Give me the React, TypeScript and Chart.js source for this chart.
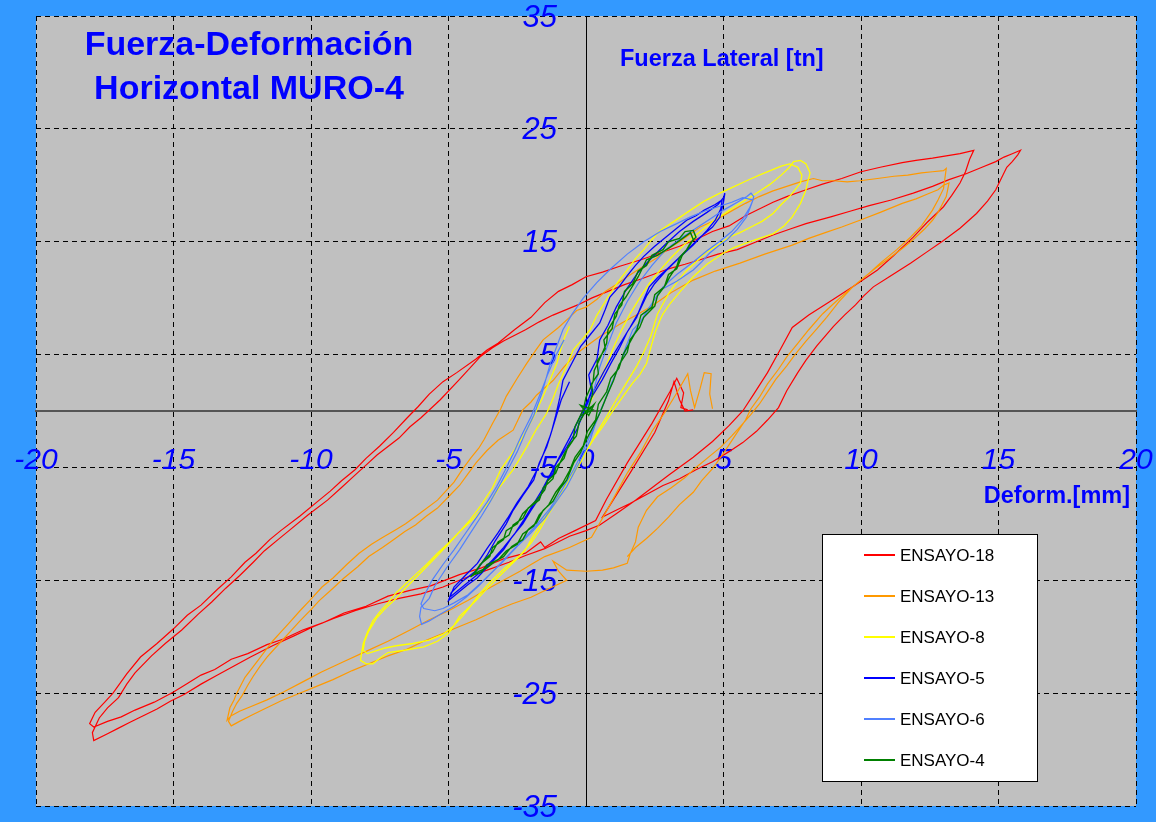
import React, { useEffect, useRef } from "react";
import { Chart, registerables } from "chart.js";

Chart.register(...registerables);

type Pt = [number, number];

const X_TICKS = [-20, -15, -10, -5, 0, 5, 10, 15, 20];
const Y_TICKS = [-35, -25, -15, -5, 5, 15, 25, 35];

const TITLE_LINES = ["Fuerza-Deformación", "Horizontal MURO-4"];
const Y_TITLE = "Fuerza Lateral [tn]";
const X_TITLE = "Deform.[mm]";

const SERIES_NAMES = ["ENSAYO-18", "ENSAYO-13", "ENSAYO-8", "ENSAYO-5", "ENSAYO-6", "ENSAYO-4"];
const SERIES_COLORS = ["#FF0000", "#FF9900", "#FFFF00", "#0000FF", "#5080FF", "#008000"];

const ENSAYO_18: Pt[] = [
  [3.70, 0.1], [3.45, 0.3], [3.55, 1.6], [3.30, 2.9], [3.05, 1.7], [2.40, -1.1], [1.50, -4.6], [0.75, -7.8], [0.35, -9.7],
  [-0.40, -10.6], [-1.00, -11.3], [-1.50, -12.1], [-1.65, -11.6], [-2.20, -12.6], [-3.00, -13.1], [-3.80, -13.9], [-4.60, -14.5],
  [-5.65, -15.5], [-6.40, -15.9], [-7.20, -16.4], [-8.00, -17.3], [-8.80, -17.9], [-9.60, -18.8], [-10.30, -19.4], [-11.00, -20.2],
  [-11.60, -20.7], [-12.30, -21.5], [-12.90, -22.0], [-13.50, -22.9], [-14.00, -23.4], [-14.60, -24.3], [-15.00, -24.9],
  [-15.70, -25.8], [-16.40, -26.5], [-16.90, -27.1], [-17.40, -27.5], [-17.90, -28.0],
  [-18.05, -27.7], [-17.85, -26.7], [-17.50, -25.8], [-17.20, -25.0], [-16.70, -23.3], [-16.20, -21.8], [-15.60, -20.6],
  [-15.00, -19.3], [-14.50, -18.1], [-14.00, -17.2], [-13.40, -15.8], [-12.90, -14.7], [-12.40, -13.4], [-12.00, -12.6],
  [-11.50, -11.4], [-11.10, -10.6], [-10.40, -9.3], [-9.70, -7.9], [-9.30, -7.1], [-8.90, -6.2], [-8.40, -5.2], [-8.00, -4.2],
  [-7.50, -3.1], [-7.00, -1.9], [-6.50, -0.6], [-6.10, 0.4], [-5.70, 1.5], [-5.20, 2.6], [-4.70, 3.4], [-4.00, 4.6], [-3.60, 5.4],
  [-3.20, 6.0], [-2.60, 7.2], [-2.00, 8.3], [-1.50, 9.6], [-1.00, 10.6], [-0.50, 11.2], [0.00, 11.9], [0.60, 12.3], [1.20, 12.8],
  [2.00, 13.4], [2.70, 14.0], [3.40, 14.6], [4.00, 15.2], [4.60, 15.9], [5.20, 16.4], [5.80, 17.3], [6.30, 17.9], [6.80, 18.5],
  [7.30, 19.0], [8.00, 19.6], [8.60, 20.1], [9.30, 20.6], [10.00, 21.2], [10.70, 21.6], [11.50, 22.0], [12.00, 22.2], [12.60, 22.4],
  [13.10, 22.6], [13.60, 22.8], [14.10, 23.1],
  [13.95, 22.3], [13.80, 21.2], [13.60, 20.2], [13.30, 19.1], [13.00, 18.1], [12.40, 16.7], [11.90, 15.4], [11.20, 13.8],
  [10.60, 12.5], [9.70, 11.0], [8.80, 9.6], [8.10, 8.5], [7.50, 7.4], [7.10, 5.6], [6.60, 3.4], [6.10, 1.5], [5.70, 0.0],
  [5.20, -1.3], [4.60, -2.7], [3.90, -4.1], [3.00, -5.7], [2.40, -6.8], [1.80, -7.9], [1.10, -9.1], [0.50, -10.1], [0.00, -10.6],
  [-0.60, -11.1], [-1.50, -12.2], [-2.20, -12.8], [-2.80, -13.4], [-3.60, -14.1], [-4.40, -14.8], [-5.20, -15.6], [-6.00, -16.2],
  [-6.80, -16.6], [-7.60, -17.1], [-8.40, -17.7], [-9.20, -18.4], [-9.90, -19.1], [-10.60, -19.9], [-11.40, -20.8], [-12.20, -21.8],
  [-12.80, -22.6], [-13.40, -23.4], [-14.00, -24.2], [-14.60, -25.1], [-15.10, -25.7], [-15.60, -26.4], [-16.10, -27.0],
  [-16.60, -27.6], [-17.00, -28.1], [-17.40, -28.6], [-17.90, -29.2],
  [-17.95, -28.5], [-17.70, -27.2], [-17.40, -26.3], [-17.00, -25.4], [-16.70, -24.2], [-16.40, -23.2], [-15.80, -21.7],
  [-15.30, -20.6], [-14.70, -19.4], [-14.10, -18.0], [-13.60, -16.9], [-13.10, -15.7], [-12.60, -14.6], [-12.10, -13.4],
  [-11.70, -12.4], [-11.20, -11.4], [-10.80, -10.6], [-10.10, -9.2], [-9.40, -7.9], [-8.90, -6.8], [-8.50, -5.9], [-8.00, -4.8],
  [-7.60, -3.9], [-6.80, -2.4], [-6.40, -1.4], [-6.00, -0.6], [-5.30, 1.0], [-4.60, 2.8], [-3.85, 4.8], [-3.40, 5.6], [-3.00, 6.2],
  [-2.20, 7.2], [-1.70, 7.9], [-1.20, 8.5], [-0.30, 9.4], [0.20, 10.0], [0.80, 10.6], [1.40, 11.2], [2.00, 11.7], [3.00, 12.6],
  [3.60, 13.0], [4.15, 13.4], [4.80, 13.9], [5.50, 14.3], [6.20, 15.0], [6.80, 15.6], [7.40, 16.1], [8.00, 16.6], [8.90, 17.2],
  [9.60, 17.7], [10.30, 18.2], [11.10, 18.7], [11.90, 19.3], [12.60, 19.9], [13.20, 20.5], [13.80, 21.0], [14.40, 21.6],
  [14.90, 22.1], [15.20, 22.5], [15.50, 22.8], [15.80, 23.1],
  [15.70, 22.7], [15.50, 22.1], [15.30, 21.6], [15.10, 20.6], [14.90, 19.6], [14.60, 18.6], [14.20, 17.5], [13.60, 16.2],
  [13.00, 15.1], [12.40, 14.1], [11.80, 13.1], [11.10, 12.0], [10.45, 11.0], [10.10, 10.2], [9.80, 9.4], [9.40, 8.5], [9.00, 7.5],
  [8.40, 5.8], [8.00, 4.5], [7.70, 3.4], [7.30, 1.8], [7.00, 0.3], [6.60, -0.8], [6.20, -1.8], [5.70, -2.8], [5.20, -3.6],
  [4.60, -4.5], [4.00, -5.2], [3.40, -6.0], [2.80, -6.6], [2.20, -7.4], [1.60, -8.2], [1.00, -8.9], [0.60, -9.4],
  [1.60, -5.5], [2.50, -1.9], [3.00, 0.9], [3.20, 2.6], [3.40, 1.0], [3.60, 0.0], [3.90, 0.1],
];

const ENSAYO_13: Pt[] = [
  [4.60, 0.2], [4.50, 1.5], [4.55, 3.3], [4.30, 3.4], [4.15, 2.0], [3.95, 0.3], [3.80, 1.8], [3.70, 3.3], [3.30, 1.6], [2.90, 0.0],
  [2.40, -1.8], [2.00, -3.6], [1.50, -5.5], [1.10, -7.3], [0.60, -9.5], [0.20, -11.2],
  [-0.60, -12.1], [-1.50, -12.9], [-2.00, -13.6], [-2.40, -14.2], [-3.00, -15.0], [-3.60, -15.8], [-4.30, -16.8], [-5.00, -17.7],
  [-5.70, -18.5], [-6.40, -19.4], [-7.20, -20.4], [-8.00, -21.3], [-8.80, -22.2], [-9.60, -23.1], [-10.30, -24.0], [-11.00, -24.9],
  [-11.60, -25.6], [-12.20, -26.2], [-12.60, -26.6], [-12.90, -27.0], [-13.05, -27.4],
  [-12.95, -26.3], [-12.80, -25.6], [-12.70, -25.0], [-12.40, -23.6], [-12.15, -22.8], [-11.90, -22.0], [-11.40, -20.4],
  [-11.10, -19.6], [-10.80, -18.8], [-10.40, -17.7], [-10.05, -16.8], [-9.60, -15.6], [-9.20, -14.8], [-8.70, -13.6],
  [-8.25, -12.6], [-7.80, -11.8], [-7.40, -11.2], [-6.90, -10.5], [-6.56, -10.0], [-6.00, -9.0], [-5.40, -7.9], [-5.10, -7.1],
  [-4.80, -6.3], [-4.50, -5.2], [-4.20, -4.2], [-3.90, -3.3], [-3.70, -2.5], [-3.40, -1.1], [-3.10, 0.2], [-2.90, 1.3],
  [-2.50, 2.9], [-2.16, 4.2], [-1.85, 5.3], [-1.56, 6.3], [-1.00, 7.4], [-0.60, 8.3], [-0.34, 8.9], [0.00, 9.2], [0.40, 9.9],
  [0.70, 10.6], [1.10, 11.2], [1.50, 11.9], [2.00, 12.7], [2.60, 13.6], [3.00, 14.4], [3.40, 15.0], [4.15, 16.3], [4.70, 16.9],
  [5.20, 17.6], [5.80, 18.4], [6.30, 19.0], [6.80, 19.5], [7.30, 19.9], [7.80, 20.3], [8.27, 20.6], [8.60, 20.4], [9.00, 20.4],
  [9.50, 20.3], [9.96, 20.4], [10.60, 20.6], [11.20, 20.8], [11.70, 20.9], [12.20, 21.1], [12.60, 21.2], [13.00, 21.3], [13.10, 21.5],
  [13.05, 20.6], [13.00, 19.7], [12.80, 18.7], [12.60, 17.8], [12.20, 16.4], [11.80, 15.4], [11.30, 14.3], [10.70, 13.1],
  [10.20, 12.0], [9.70, 11.0], [9.20, 9.7], [8.75, 8.3], [8.40, 7.3], [8.00, 6.2], [7.60, 5.0], [7.30, 4.0], [6.90, 2.8],
  [6.60, 1.7], [6.30, 0.6], [6.00, -0.3], [5.60, -1.4], [5.30, -2.2], [4.90, -3.2], [4.50, -4.0], [4.00, -5.0], [3.60, -5.9],
  [3.10, -6.8], [2.60, -7.6], [2.20, -8.8], [1.90, -10.3], [1.80, -11.6], [1.60, -12.7], [1.50, -13.5], [1.00, -13.9],
  [0.60, -14.1], [0.00, -14.2], [-0.70, -14.1], [-1.20, -13.3], [-1.00, -14.2], [-0.70, -15.0],
  [-1.40, -15.8], [-2.00, -16.5], [-2.70, -17.1], [-3.30, -17.7], [-4.00, -18.5], [-4.60, -19.1], [-5.30, -19.8], [-5.90, -20.4],
  [-6.50, -21.1], [-7.20, -21.7], [-7.90, -22.4], [-8.50, -23.0], [-9.20, -23.8], [-9.80, -24.4], [-10.50, -25.1], [-11.10, -25.7],
  [-11.70, -26.4], [-12.20, -27.0], [-12.60, -27.5], [-12.90, -27.9],
  [-13.00, -27.5], [-12.85, -26.6], [-12.70, -25.9], [-12.50, -25.2], [-12.30, -24.3], [-12.10, -23.5], [-11.85, -22.6],
  [-11.60, -21.8], [-11.30, -21.0], [-11.00, -20.2], [-10.70, -19.4], [-10.40, -18.6], [-10.00, -17.6], [-9.70, -16.8],
  [-9.20, -15.7], [-8.80, -14.8], [-8.30, -13.8], [-7.90, -12.9], [-7.40, -12.1], [-7.00, -11.4], [-6.60, -10.7], [-6.20, -10.1],
  [-5.80, -9.3], [-5.40, -8.6], [-5.00, -7.6], [-4.60, -6.6], [-4.30, -5.6], [-4.00, -4.6], [-3.60, -3.5], [-3.20, -2.6],
  [-2.65, -1.7], [-2.30, 0.1], [-2.00, 0.8], [-1.80, 1.4], [-1.20, 2.7], [-0.80, 3.9], [-0.34, 5.1], [0.10, 5.9], [0.50, 6.6],
  [0.90, 7.2], [1.30, 7.8], [1.90, 8.6], [2.40, 9.3], [3.10, 10.5], [3.90, 11.6], [4.70, 12.4], [5.60, 13.1], [6.50, 13.9],
  [7.50, 14.7], [8.10, 15.3], [8.70, 15.8], [9.30, 16.3], [9.96, 16.9], [10.70, 17.6], [11.50, 18.4], [12.00, 18.8], [12.40, 19.2],
  [12.80, 19.6], [13.00, 20.0], [13.20, 20.2],
  [13.15, 19.6], [13.10, 19.0], [12.95, 18.3], [12.80, 17.6], [12.60, 16.9], [12.30, 16.1], [11.90, 15.2], [11.50, 14.4],
  [11.00, 13.5], [10.50, 12.6], [10.00, 11.6], [9.50, 10.6], [9.00, 9.5], [8.60, 8.6], [8.10, 7.2], [7.70, 6.0], [7.30, 4.8],
  [7.00, 3.7], [6.60, 2.4], [6.30, 1.2], [6.00, 0.2], [5.80, -0.8], [5.50, -1.9], [5.20, -3.0], [4.90, -4.1], [4.60, -5.1],
  [4.20, -6.2], [3.90, -7.2], [3.40, -8.3], [3.00, -9.4], [2.60, -10.4], [2.20, -11.3], [1.80, -12.1], [1.50, -12.9],
];

const ENSAYO_8: Pt[] = [
  [0.00, 0.0], [0.30, 1.5], [0.55, 3.0], [0.80, 4.4], [1.05, 5.9], [1.30, 7.2], [1.60, 8.6], [1.95, 10.0], [2.30, 11.3],
  [2.70, 12.5], [3.10, 13.6], [3.60, 14.8], [4.10, 15.8], [4.60, 16.8], [5.10, 17.6], [5.60, 18.4], [6.20, 19.3], [6.70, 20.1],
  [7.10, 20.9], [7.40, 21.6], [7.55, 22.1], [7.80, 22.2], [8.00, 21.9], [8.15, 21.1], [8.05, 20.2], [8.00, 19.6], [7.80, 18.4],
  [7.50, 17.2], [7.20, 16.4], [6.80, 15.7], [6.30, 15.3], [5.84, 14.9], [5.40, 14.5], [5.00, 14.0], [4.40, 13.0], [3.90, 11.9],
  [3.50, 10.8], [3.05, 9.5], [2.80, 8.6], [2.70, 8.1], [2.55, 7.2], [2.40, 6.0], [2.20, 4.2], [1.95, 3.2], [1.70, 2.5],
  [1.35, 1.3], [1.00, 0.1], [0.60, -1.4], [0.25, -2.6], [0.00, -3.6], [-0.20, -4.6], [-0.50, -5.7], [-0.70, -6.5], [-1.00, -7.5],
  [-1.20, -8.4], [-1.50, -9.4], [-1.70, -10.2], [-2.00, -11.4], [-2.20, -12.3], [-2.50, -13.1], [-2.80, -13.8], [-3.30, -15.0],
  [-3.70, -16.0], [-4.00, -16.8], [-4.30, -17.5], [-4.60, -18.2], [-4.80, -19.0], [-5.00, -19.7], [-5.40, -20.4], [-5.90, -20.9],
  [-6.60, -21.2], [-7.20, -21.4], [-7.50, -21.9], [-7.75, -22.4], [-8.00, -22.4], [-8.20, -22.1],
  [-8.15, -21.3], [-8.10, -20.6], [-7.95, -19.6], [-7.75, -18.6], [-7.50, -17.8], [-7.20, -17.0], [-6.90, -16.1], [-6.56, -15.3],
  [-6.20, -14.5], [-5.80, -13.6], [-5.40, -12.6], [-5.00, -11.7], [-4.60, -10.7], [-4.20, -9.8], [-3.80, -8.8], [-3.45, -7.9],
  [-3.10, -6.6], [-2.65, -5.2], [-2.40, -4.2], [-2.16, -3.2], [-1.80, -1.6], [-1.43, -0.2], [-1.20, 1.1], [-1.00, 2.4],
  [-0.70, 4.0], [-0.47, 5.4], [-0.15, 6.3], [0.15, 7.2], [0.40, 8.5], [0.80, 10.1], [1.15, 11.4], [1.50, 12.5], [1.80, 13.5],
  [2.10, 14.3], [2.40, 15.2], [2.70, 16.0], [3.20, 16.8], [3.80, 17.8], [4.30, 18.6], [4.87, 19.3], [5.40, 19.9], [5.84, 20.4],
  [6.30, 20.9], [6.70, 21.3], [7.10, 21.7], [7.40, 21.9], [7.70, 21.6], [7.85, 20.9], [7.80, 20.2],
  [7.60, 19.6], [7.40, 19.0], [7.10, 18.3], [6.80, 17.5], [6.40, 16.8], [6.00, 16.3], [5.60, 15.8], [5.20, 15.4], [4.80, 14.7],
  [4.40, 14.1], [4.00, 13.2], [3.60, 12.3], [3.30, 11.4], [3.00, 10.4], [2.80, 9.5], [2.60, 8.6], [2.50, 7.8], [2.35, 6.6],
  [2.10, 5.2], [1.85, 4.0], [1.50, 2.6], [1.10, 1.0], [0.75, -0.5], [0.40, -1.9], [0.10, -3.2], [-0.20, -4.4], [-0.50, -5.6],
  [-0.80, -6.9], [-1.10, -8.1], [-1.40, -9.3], [-1.70, -10.6], [-2.00, -11.7], [-2.40, -12.8], [-2.90, -13.8], [-3.50, -15.2],
  [-3.90, -16.3], [-4.20, -17.3], [-4.50, -18.2], [-4.80, -19.0], [-5.20, -19.8], [-5.70, -20.3], [-6.30, -20.6], [-6.90, -20.8],
  [-7.30, -21.0], [-7.70, -21.3], [-7.95, -21.5], [-8.10, -21.2],
  [-8.05, -20.4], [-7.90, -19.5], [-7.60, -18.3], [-7.30, -17.5], [-6.90, -16.6], [-6.60, -15.8], [-6.20, -14.8], [-5.80, -13.8],
  [-5.40, -12.8], [-5.00, -11.8], [-4.60, -10.7], [-4.20, -9.6], [-3.80, -8.3], [-3.40, -6.8], [-3.10, -5.2], [-2.70, -3.8],
  [-2.30, -2.3], [-1.90, -0.5], [-1.56, 1.3], [-1.30, 2.8], [-1.05, 4.3], [-0.95, 5.2], [-0.80, 6.4], [-0.60, 7.5],
];

const ENSAYO_5: Pt[] = [
  [0.00, 0.4], [0.20, 1.8], [0.10, 3.2], [0.40, 4.6], [0.50, 6.3], [0.80, 7.6], [1.10, 9.2], [1.50, 10.9], [1.90, 12.3],
  [2.40, 13.6], [2.90, 14.8], [3.40, 15.9], [3.90, 16.8], [4.40, 17.6], [4.80, 18.3], [5.00, 18.9], [5.05, 19.3], [5.00, 18.5],
  [4.87, 17.2], [4.60, 16.3], [4.15, 15.4], [3.60, 14.1], [3.05, 12.8], [2.60, 11.8], [2.30, 11.0], [2.05, 9.6], [1.84, 8.3],
  [1.50, 7.0], [1.20, 5.5], [0.90, 4.2], [0.60, 2.8], [0.30, 1.6], [0.00, 0.4], [-0.34, -1.7], [-0.70, -3.2], [-1.07, -4.6],
  [-1.40, -6.2], [-1.67, -7.6], [-2.00, -8.8], [-2.30, -10.0], [-2.70, -11.2], [-3.00, -12.3], [-3.50, -13.6], [-3.96, -14.8],
  [-4.30, -15.4], [-4.60, -16.0], [-5.00, -16.8], [-4.90, -16.1], [-4.50, -15.1], [-3.96, -14.1], [-3.60, -12.8], [-3.30, -11.5],
  [-2.90, -10.0], [-2.65, -8.8], [-2.30, -7.5], [-1.90, -6.1], [-1.70, -4.6], [-1.43, -3.2], [-1.25, -1.8], [-1.10, -0.4],
  [-0.95, 1.2], [-0.84, 2.7], [-0.50, 4.3], [-0.20, 5.7], [0.10, 6.6], [0.50, 7.8], [0.70, 9.0], [0.87, 10.1], [1.20, 11.0],
  [1.50, 12.0], [1.80, 12.9], [2.10, 13.7], [2.50, 14.6], [2.90, 15.4], [3.30, 16.2], [3.66, 16.9], [4.00, 17.3], [4.30, 17.8],
  [4.70, 18.3], [4.95, 18.7], [4.90, 17.9], [4.70, 16.9], [4.40, 16.0], [3.90, 14.7], [3.40, 13.6], [2.90, 12.4], [2.50, 11.3],
  [2.20, 10.2], [1.95, 8.9], [1.60, 7.4], [1.30, 6.2], [0.95, 4.8], [0.65, 3.5], [0.35, 2.1], [0.05, 0.9], [-0.25, -0.7],
  [-0.60, -2.4], [-0.95, -4.0], [-1.30, -5.6], [-1.60, -7.0], [-1.95, -8.4], [-2.25, -9.6], [-2.60, -10.9], [-3.00, -12.1],
  [-3.40, -13.2], [-3.80, -14.2], [-4.20, -15.0], [-4.60, -15.8], [-4.95, -16.5], [-4.80, -15.6], [-4.40, -14.6], [-3.95, -13.5],
  [-3.60, -12.2], [-3.20, -10.8], [-2.85, -9.5], [-2.50, -8.1], [-2.10, -6.7], [-1.80, -5.3], [-1.55, -3.8], [-1.30, -2.2],
  [-1.10, -0.6], [-0.90, 1.0], [-0.60, 2.6],
];

const ENSAYO_6: Pt[] = [
  [0.00, 0.0], [0.30, 2.0], [0.50, 3.9], [0.80, 5.9], [1.10, 7.8], [1.50, 9.7], [1.90, 11.3], [2.40, 12.9], [2.90, 14.3],
  [3.50, 15.4], [4.00, 16.2], [4.50, 17.0], [5.00, 17.8], [5.50, 18.5], [5.85, 19.0], [6.00, 19.3], [6.10, 19.0], [6.07, 18.7],
  [5.95, 17.9], [5.84, 17.2], [5.50, 16.1], [5.10, 15.1], [4.80, 14.6], [4.50, 14.0], [4.20, 13.2], [3.90, 12.5], [3.30, 11.5],
  [2.70, 10.7], [2.40, 9.5], [2.10, 8.3], [1.90, 7.7], [1.70, 7.2], [1.45, 5.7], [1.24, 4.2], [0.90, 2.3], [0.60, 0.4],
  [0.35, -1.1], [0.15, -2.6], [-0.25, -4.6], [-0.70, -6.7], [-1.10, -8.1], [-1.50, -9.5], [-2.00, -10.8], [-2.50, -12.0],
  [-3.00, -13.3], [-3.50, -14.5], [-3.90, -15.5], [-4.36, -16.5], [-4.80, -17.3], [-5.30, -18.0], [-5.70, -18.6], [-5.98, -18.9],
  [-6.05, -18.2], [-6.00, -17.4], [-5.70, -16.6], [-5.50, -15.5], [-5.10, -14.0], [-4.60, -12.3], [-4.20, -10.8], [-3.80, -9.3],
  [-3.45, -7.9], [-3.10, -6.4], [-2.80, -5.0], [-2.50, -3.6], [-2.20, -1.9], [-1.90, -0.4], [-1.60, 1.6], [-1.30, 4.2],
  [-1.05, 5.8], [-0.84, 7.2], [-0.50, 8.6], [-0.10, 10.0], [0.40, 11.4], [0.90, 12.6], [1.50, 13.9], [2.10, 15.0], [2.70, 15.9],
  [3.30, 16.6], [3.80, 17.2], [4.30, 17.7], [4.80, 18.1], [5.30, 18.5], [5.70, 18.9], [6.07, 18.7], [5.95, 18.0], [5.70, 17.0],
  [5.30, 15.9], [4.90, 15.1], [4.40, 14.2], [3.90, 13.2], [3.30, 12.1], [2.80, 11.0], [2.50, 9.9], [2.20, 8.8], [1.90, 7.6],
  [1.60, 6.2], [1.35, 4.8], [1.05, 3.1], [0.80, 1.6], [0.50, -0.1], [0.20, -1.9], [-0.10, -3.5], [-0.45, -5.2], [-0.85, -6.9],
  [-1.30, -8.6], [-1.80, -10.1], [-2.30, -11.4], [-2.80, -12.7], [-3.30, -14.0], [-3.80, -15.2], [-4.30, -16.3], [-4.80, -17.0],
  [-5.20, -17.5], [-5.50, -17.7], [-5.90, -17.5], [-6.00, -17.1], [-5.85, -16.2], [-5.60, -15.0], [-5.20, -13.6], [-4.80, -12.3],
  [-4.40, -10.9], [-4.00, -9.5], [-3.60, -8.1], [-3.25, -6.7], [-2.95, -5.3], [-2.65, -3.8], [-2.35, -2.2], [-2.00, -0.5],
  [-1.70, 1.3], [-1.40, 3.2], [-1.10, 4.9], [-0.80, 6.3],
];

const ENSAYO_4: Pt[] = [
  [0.00, 0.0], [0.20, 0.4], [-0.10, -0.3], [0.25, 0.1], [-0.20, 0.5], [0.10, -0.4], [0.30, 0.6], [0.05, 0.0],
  [0.25, 1.6], [0.20, 2.4], [0.45, 3.3], [0.40, 4.4], [0.70, 5.5], [0.65, 6.3], [0.95, 7.3], [1.05, 8.6], [1.30, 9.4],
  [1.40, 10.6], [1.70, 11.3], [1.90, 12.4], [2.20, 12.9], [2.40, 13.8], [2.80, 14.3], [3.00, 15.0], [3.40, 15.3], [3.60, 15.9],
  [3.90, 16.0], [4.00, 15.4], [3.80, 14.9], [3.66, 14.3], [3.40, 13.6], [3.30, 12.8], [3.05, 11.9], [2.90, 11.2], [2.60, 10.2],
  [2.50, 9.3], [2.10, 8.3], [1.95, 7.4], [1.60, 6.3], [1.50, 5.2], [1.20, 4.1], [1.00, 2.7], [0.80, 1.6], [0.50, -0.2],
  [0.30, -1.2], [0.00, -2.6], [-0.20, -3.7], [-0.45, -4.6], [-0.70, -6.1], [-0.95, -6.9], [-1.20, -8.0], [-1.56, -8.8],
  [-1.80, -9.9], [-2.10, -10.5], [-2.30, -11.4], [-2.70, -12.0], [-3.00, -12.9], [-3.30, -13.3], [-3.60, -13.9], [-3.90, -14.2],
  [-4.20, -14.7], [-4.00, -14.2], [-3.85, -13.6], [-3.50, -12.9], [-3.40, -12.1], [-3.00, -11.4], [-2.90, -10.6], [-2.50, -10.0],
  [-2.30, -9.1], [-1.80, -7.9], [-1.50, -7.0], [-1.40, -6.2], [-1.10, -5.5], [-0.95, -4.6], [-0.75, -3.6], [-0.47, -2.6],
  [-0.40, -1.4], [-0.10, 0.1], [0.00, 1.2], [0.26, 2.6], [0.30, 3.6], [0.55, 4.9], [0.75, 6.0], [0.80, 7.2], [1.10, 8.4],
  [1.20, 9.3], [1.45, 10.1], [1.60, 10.7], [1.90, 11.9], [2.20, 13.4], [2.60, 13.8], [3.05, 14.5], [3.40, 15.1], [3.80, 15.8],
  [3.90, 15.2], [3.70, 14.4], [3.50, 13.8], [3.30, 12.6], [3.00, 12.1], [2.85, 11.0], [2.50, 10.3], [2.40, 9.2], [2.00, 8.5],
  [1.85, 7.2], [1.60, 6.1], [1.35, 5.0], [1.20, 3.8], [0.90, 2.9], [0.75, 1.7], [0.45, 0.6], [0.35, -0.8], [0.05, -1.8],
  [-0.10, -3.1], [-0.40, -4.1], [-0.60, -5.3], [-0.85, -6.4], [-1.10, -7.2], [-1.35, -8.3], [-1.70, -9.2], [-1.90, -10.2],
  [-2.30, -10.9], [-2.50, -11.8], [-2.90, -12.4], [-3.20, -13.2], [-3.60, -13.6], [-3.80, -14.3], [-4.10, -14.5],
  [-3.90, -13.8], [-3.70, -13.2], [-3.40, -12.5], [-3.20, -11.6], [-2.80, -11.0], [-2.65, -10.1], [-2.30, -9.5], [-2.10, -8.6],
  [-1.70, -7.9], [-1.55, -6.8], [-1.20, -6.0], [-1.10, -5.0], [-0.80, -4.2], [-0.65, -3.1], [-0.35, -2.2], [-0.25, -1.0], [0.00, 0.0],
];

const SERIES_DATA: Pt[][] = [ENSAYO_18, ENSAYO_13, ENSAYO_8, ENSAYO_5, ENSAYO_6, ENSAYO_4];
const SERIES_WIDTHS = [1.2, 1.2, 1.3, 1.3, 1.2, 1.4];
const SERIES_ORDER = [6, 5, 4, 3, 2, 1];

const FONT = "'Liberation Sans', Arial, Helvetica, sans-serif";
const PAGE_BG = "#3399FF";
const PLOT_BG = "#C0C0C0";
const TEXT_BLUE = "#0000FF";
const Y_LABEL_GAP = 29;

const noScalePadding = (s: any) => {
  s.paddingLeft = 0;
  s.paddingRight = 0;
  s.paddingTop = 0;
  s.paddingBottom = 0;
};

const bgPlugin = {
  id: "bgPlugin",
  beforeDraw(chart: any) {
    const { ctx, width, height, chartArea } = chart;
    ctx.save();
    ctx.fillStyle = PAGE_BG;
    ctx.fillRect(0, 0, width, height);
    ctx.fillStyle = PLOT_BG;
    ctx.fillRect(chartArea.left, chartArea.top, chartArea.right - chartArea.left, chartArea.bottom - chartArea.top);
    ctx.restore();
    const yScale = chart.scales.y;
    if (yScale && !yScale.$shifted) {
      const items = yScale.getLabelItems(chartArea);
      items.forEach((it: any) => {
        it.options.translation[0] -= Y_LABEL_GAP;
      });
      yScale.$shifted = true;
    }
  },
};

const textPlugin = {
  id: "textPlugin",
  afterDraw(chart: any) {
    const ctx = chart.ctx;
    ctx.save();
    ctx.fillStyle = TEXT_BLUE;
    ctx.textBaseline = "alphabetic";
    ctx.textAlign = "center";
    ctx.font = `bold 34px ${FONT}`;
    ctx.fillText(TITLE_LINES[0], 249, 55);
    ctx.fillText(TITLE_LINES[1], 249, 99);
    ctx.font = `bold 23.5px ${FONT}`;
    ctx.textAlign = "left";
    ctx.fillText(Y_TITLE, 620, 66);
    ctx.textAlign = "right";
    ctx.fillText(X_TITLE, 1130, 503);

    const lx = 822, ly = 534, lw = 216, lh = 248;
    ctx.fillStyle = "#FFFFFF";
    ctx.fillRect(lx, ly, lw, lh);
    ctx.strokeStyle = "#000000";
    ctx.lineWidth = 1;
    ctx.strokeRect(lx + 0.5, ly + 0.5, lw - 1, lh - 1);
    ctx.font = `17px ${FONT}`;
    ctx.textAlign = "left";
    ctx.textBaseline = "middle";
    chart.data.datasets.forEach((ds: any, i: number) => {
      const y = 555 + i * 41;
      ctx.strokeStyle = ds.borderColor;
      ctx.lineWidth = 2;
      ctx.beginPath();
      ctx.moveTo(864, y);
      ctx.lineTo(895, y);
      ctx.stroke();
      ctx.fillStyle = "#000000";
      ctx.fillText(ds.label, 900, y + 1);
    });
    ctx.restore();
  },
};

export default function App() {
  const canvasRef = useRef<HTMLCanvasElement | null>(null);

  useEffect(() => {
    const canvas = canvasRef.current;
    if (!canvas) return;
    const chart = new Chart(canvas, {
      type: "scatter",
      data: {
        datasets: SERIES_DATA.map((pts, i) => ({
          label: SERIES_NAMES[i],
          data: pts.map(([x, y]) => ({ x, y })),
          borderColor: SERIES_COLORS[i],
          backgroundColor: SERIES_COLORS[i],
          showLine: true,
          pointRadius: 0,
          pointHoverRadius: 0,
          borderWidth: SERIES_WIDTHS[i],
          tension: 0,
          fill: false,
          order: SERIES_ORDER[i],
        })),
      },
      options: {
        responsive: false,
        maintainAspectRatio: false,
        devicePixelRatio: 1,
        animation: false,
        events: [],
        layout: { padding: { left: 36, right: 20, top: 16, bottom: 16 } },
        plugins: {
          legend: { display: false },
          tooltip: { enabled: false },
          title: { display: false },
        },
        scales: {
          x: {
            type: "linear",
            min: -20,
            max: 20,
            position: { y: 0 } as any,
            afterBuildTicks: (s: any) => {
              s.ticks = X_TICKS.map((v) => ({ value: v }));
            },
            afterFit: noScalePadding,
            grid: { color: "#000000", lineWidth: 1, drawTicks: false, tickLength: 0 },
            border: { display: true, color: "#555555", width: 2, dash: [5, 4] },
            ticks: {
              color: TEXT_BLUE,
              font: { family: FONT, size: 30, style: "italic", lineHeight: 1 },
              padding: 35,
              autoSkip: false,
              maxRotation: 0,
              minRotation: 0,
              callback: (v: any) => String(v),
            },
          },
          y: {
            type: "linear",
            min: -35,
            max: 35,
            position: { x: 0 } as any,
            afterBuildTicks: (s: any) => {
              s.ticks = Y_TICKS.map((v) => ({ value: v }));
            },
            afterFit: noScalePadding,
            grid: { color: "#000000", lineWidth: 1, drawTicks: false, tickLength: 0 },
            border: { display: true, color: "#000000", width: 1, dash: [5, 4] },
            ticks: {
              color: TEXT_BLUE,
              font: { family: FONT, size: 31, style: "italic", lineHeight: 1 },
              padding: 0,
              labelOffset: 2,
              autoSkip: false,
              callback: (v: any) => String(v),
            },
          },
        },
      },
      plugins: [bgPlugin, textPlugin],
    } as any);
    return () => chart.destroy();
  }, []);

  return (
    <div style={{ position: "fixed", left: 0, top: 0, width: 1156, height: 822, background: PAGE_BG }}>
      <canvas ref={canvasRef} width={1156} height={822} style={{ display: "block", width: 1156, height: 822 }} />
    </div>
  );
}
